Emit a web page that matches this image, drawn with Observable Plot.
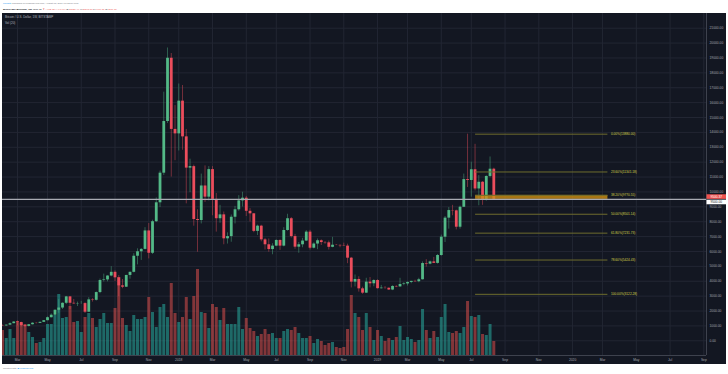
<!DOCTYPE html>
<html>
<head>
<meta charset="utf-8">
<script src="https://cdn.jsdelivr.net/npm/d3@7"></script>
<script src="https://cdn.jsdelivr.net/npm/@observablehq/plot@0.6"></script>
<style>
  html,body{margin:0;padding:0;background:#ffffff;}
  body{width:728px;height:374px;position:relative;overflow:hidden;font-family:"Liberation Sans","DejaVu Sans",Arial,sans-serif;}
  #panel{position:absolute;left:2px;top:13px;width:724px;height:351px;background:#131722;}
  .layer{position:absolute;left:0;top:13px;}
  .layer svg{display:block;overflow:visible;}
  #overlay{position:absolute;left:0;top:0;}
</style>
</head>
<body>
<div id="panel"></div>
<div class="layer" id="gridLayer"></div>
<div class="layer" id="volLayer"></div>
<div class="layer" id="priceLayer"></div>
<svg id="overlay" width="728" height="374" font-family="Liberation Sans, DejaVu Sans, Arial, sans-serif"></svg>
<script>
// ---- week start dates (BITSTAMP:BTCUSD, 1W) ----
const weeks = [
"2017-02-06","2017-02-13","2017-02-20","2017-02-27","2017-03-06","2017-03-13","2017-03-20","2017-03-27","2017-04-03","2017-04-10",
"2017-04-17","2017-04-24","2017-05-01","2017-05-08","2017-05-15","2017-05-22","2017-05-29","2017-06-05","2017-06-12","2017-06-19",
"2017-06-26","2017-07-03","2017-07-10","2017-07-17","2017-07-24","2017-07-31","2017-08-07","2017-08-14","2017-08-21","2017-08-28",
"2017-09-04","2017-09-11","2017-09-18","2017-09-25","2017-10-02","2017-10-09","2017-10-16","2017-10-23","2017-10-30","2017-11-06",
"2017-11-13","2017-11-20","2017-11-27","2017-12-04","2017-12-11","2017-12-18","2017-12-25","2018-01-01","2018-01-08","2018-01-15",
"2018-01-22","2018-01-29","2018-02-05","2018-02-12","2018-02-19","2018-02-26","2018-03-05","2018-03-12","2018-03-19","2018-03-26",
"2018-04-02","2018-04-09","2018-04-16","2018-04-23","2018-04-30","2018-05-07","2018-05-14","2018-05-21","2018-05-28","2018-06-04",
"2018-06-11","2018-06-18","2018-06-25","2018-07-02","2018-07-09","2018-07-16","2018-07-23","2018-07-30","2018-08-06","2018-08-13",
"2018-08-20","2018-08-27","2018-09-03","2018-09-10","2018-09-17","2018-09-24","2018-10-01","2018-10-08","2018-10-15","2018-10-22",
"2018-10-29","2018-11-05","2018-11-12","2018-11-19","2018-11-26","2018-12-03","2018-12-10","2018-12-17","2018-12-24","2018-12-31",
"2019-01-07","2019-01-14","2019-01-21","2019-01-28","2019-02-04","2019-02-11","2019-02-18","2019-02-25","2019-03-04","2019-03-11",
"2019-03-18","2019-03-25","2019-04-01","2019-04-08","2019-04-15","2019-04-22","2019-04-29","2019-05-06","2019-05-13","2019-05-20",
"2019-05-27","2019-06-03","2019-06-10","2019-06-17","2019-06-24","2019-07-01","2019-07-08","2019-07-15","2019-07-22","2019-07-29",
"2019-08-05","2019-08-12"];

const opens = [
1010,1000,1050,1150,1260,1230,1020,965,1080,1180,
1170,1240,1350,1550,1720,2050,2200,2520,2950,2520,
2480,2500,2500,1920,2750,2720,3240,4050,4090,4350,
4600,4230,3690,3600,4390,4600,5680,5980,6140,7380,
5880,8000,9270,11260,14730,18980,14200,13900,16100,13700,
11600,11700,8150,8080,10400,9650,11500,9500,8200,8460,
6850,7000,8300,8800,9400,9580,8700,8530,7350,7700,
6780,6450,6130,6360,6740,6360,7410,8200,7000,6290,
6450,6700,7300,6220,6500,6720,6600,6580,6280,6420,
6410,6380,6360,5550,3940,4120,3490,3200,3940,3830,
4050,3500,3540,3530,3410,3650,3620,3780,3820,3920,
3990,3970,4100,5190,5150,5300,5200,5730,6960,8240,
8750,8730,7630,8970,10830,10770,11490,10200,10650,9500,
11040,11527.44];

const highs = [
1060,1060,1200,1280,1330,1250,1065,1100,1210,1210,
1250,1360,1600,1810,2080,2760,2550,2980,2980,2780,
2600,2650,2560,2900,2830,3280,4150,4480,4370,4980,
4700,4380,4120,4400,4620,5850,6180,6200,7600,7880,
8100,9600,11400,16700,19670,19300,15800,17250,17150,14200,
12200,11800,8800,11200,11750,11700,11700,9900,9100,8650,
7250,8450,9030,9750,9980,9700,8880,8550,7770,7760,
6880,6840,6520,6780,6780,7600,8500,8280,7150,6600,
6880,7400,7420,6580,6840,6780,6670,6700,6950,6470,
6440,6560,6490,5600,4420,4300,3600,4200,4250,4100,
4100,3720,3640,3550,3700,3700,4200,3900,3950,4000,
4070,4200,5300,5450,5360,5600,5800,7100,8350,8950,
9100,8780,9050,11200,13880,12000,13200,11100,10700,11080,
12350,11593.37];

const lows = [
975,975,1045,1140,1000,940,890,930,1060,1130,
1160,1230,1345,1530,1700,1850,2100,2440,2100,2450,
2300,2450,1830,1910,2600,2670,3160,3950,3960,4300,
3980,2970,3500,3580,4140,4560,5100,5400,6100,5500,
5800,7950,8950,11100,14600,11000,12100,12750,12800,9200,
9950,7700,5950,7850,9300,9400,8400,7300,7900,6450,
6500,6620,7850,8700,8990,8350,7980,7260,7070,6650,
6100,5950,5780,6330,6070,6310,7360,6900,6150,5880,
6250,6670,6100,6170,6120,6400,6480,6100,6250,6390,
6250,6340,5180,3550,3620,3270,3122.28,3180,3550,3630,
3480,3470,3460,3380,3370,3570,3600,3700,3680,3830,
3920,3900,4080,4950,5100,5200,5150,5680,6600,7500,
8400,7450,7500,8970,10300,9650,10070,9070,9100,9380,
10950,9467.37];

const closes = [
1000,1050,1150,1260,1230,1020,965,1080,1180,1170,
1240,1350,1550,1720,2050,2200,2520,2950,2520,2480,
2500,2500,1920,2750,2720,3240,4050,4090,4350,4600,
4230,3690,3600,4390,4600,5680,5980,6140,7380,5880,
8000,9270,11260,14730,18980,14200,13900,16100,13700,11600,
11700,8150,8080,10400,9650,11500,9500,8200,8460,6850,
7000,8300,8800,9400,9580,8700,8530,7350,7700,6780,
6450,6130,6360,6740,6360,7410,8200,7000,6290,6450,
6700,7300,6220,6500,6720,6600,6580,6280,6420,6410,
6380,6360,5550,3940,4120,3490,3200,3940,3830,4050,
3500,3540,3530,3410,3650,3620,3780,3820,3920,3990,
3970,4100,5190,5150,5300,5200,5730,6960,8240,8750,
8730,7630,8970,10830,10770,11490,10200,10650,9500,11040,
11527.44,9500.37];

// weekly volume, thousand BTC
const volumes = [
75,51,78,51,102,96,93,69,54,36,
39,51,93,93,120,183,111,114,147,99,
102,69,114,126,111,84,108,126,96,96,
141,234,111,90,72,120,108,108,114,174,
129,84,144,153,114,216,126,99,114,174,
108,177,258,129,126,81,153,144,105,141,
93,93,93,144,78,111,81,72,57,63,
78,63,66,51,51,72,78,75,84,66,
51,51,57,36,48,42,30,36,39,24,
21,24,78,180,126,114,75,126,84,45,
75,57,42,51,45,54,87,45,54,48,
39,45,138,75,51,72,54,114,153,69,
66,72,66,84,162,117,114,120,63,60,
93,42];

// price axis labels and time axis labels
const priceTicks = [0,1000,2000,3000,4000,5000,6000,7000,8000,9000,10000,11000,12000,13000,14000,15000,16000,17000,18000,19000,20000,21000];
const tickDates = ["2017-03-06","2017-05-01","2017-07-03","2017-09-04","2017-11-06","2018-01-01","2018-03-05","2018-05-07","2018-07-02","2018-09-03","2018-11-05",
  "2019-01-07","2019-03-04","2019-05-06","2019-07-01","2019-09-02","2019-11-04","2020-01-06","2020-03-02","2020-05-04","2020-07-06","2020-09-07"];
const tickLabels = ["Mar","May","Jul","Sep","Nov","2018","Mar","May","Jul","Sep","Nov","2019","Mar","May","Jul","Sep","Nov","2020","Mar","May","Jul","Sep"];

// Fibonacci retracement (13880.00 -> 3122.28)
const fibRatios = [0, 0.236, 0.382, 0.5, 0.618, 0.786, 1];
const fibPrices = [13880.00, 11341.18, 9770.55, 8501.14, 7231.73, 5424.43, 3122.28];
const fibStart = "2019-07-09", fibEnd = "2020-03-12";
const boxLow = 9500.00, boxHigh = 9770.55;
const lineLevel = 9500.00;
const lastPrice = 9500.37;

// visible range
const xStart = "2017-02-06", xEnd = "2020-09-12";
const yMin = -988, yMax = 21987, volMax = 1026;

const parse = d3.utcParse("%Y-%m-%d");
const data = weeks.map((w, i) => ({date: parse(w), open: opens[i], high: highs[i], low: lows[i], close: closes[i], volume: volumes[i]}));
const up = data.filter(d => d.close >= d.open);
const down = data.filter(d => d.close < d.open);
const fib = fibRatios.map((r, i) => ({ratio: r, price: fibPrices[i], x1: parse(fibStart), x2: parse(fibEnd)}));
const box = [{x1: parse(fibStart), x2: parse(fibEnd), y1: boxLow, y2: boxHigh}];
const tDates = tickDates.map(parse);
const labelOf = new Map(tDates.map((d, i) => [+d, tickLabels[i]]));

const frame = {width: 728, height: 351, marginLeft: 2, marginRight: 22, marginTop: 0, marginBottom: 9,
  style: {background: "transparent", overflow: "visible", fontFamily: "Liberation Sans, DejaVu Sans, Arial, sans-serif"}};
const xOpt = {type: "utc", domain: [parse(xStart), parse(xEnd)]};

const gridPlot = Plot.plot({
  ...frame,
  x: {...xOpt, axis: null},
  y: {domain: [yMin, yMax], axis: null},
  marks: [
    Plot.gridY(priceTicks, {stroke: "#222633", strokeOpacity: 1}),
    Plot.gridX(tDates, {stroke: "#222633", strokeOpacity: 1}),
    Plot.axisY(priceTicks, {anchor: "right", tickSize: 0, tickPadding: 3, fontSize: 3.3, fill: "#a3a6af", tickFormat: d => d.toFixed(2)}),
    Plot.axisX(tDates, {anchor: "bottom", tickSize: 0, tickPadding: 3, fontSize: 3.3, fill: "#a3a6af", tickFormat: d => labelOf.get(+d)}),
    Plot.ruleX([parse(xEnd)], {stroke: "#4a4e59", strokeWidth: 0.8}),
    Plot.ruleY([yMin], {stroke: "#4a4e59", strokeWidth: 0.8})
  ]
});
document.getElementById("gridLayer").append(gridPlot);

const volPlot = Plot.plot({
  ...frame,
  x: {...xOpt, axis: null},
  y: {domain: [0, volMax], axis: null},
  marks: [
    Plot.ruleX(up, {x: "date", y1: 0, y2: "volume", stroke: "#26a69a", strokeOpacity: 0.58, strokeWidth: 3, clip: true}),
    Plot.ruleX(down, {x: "date", y1: 0, y2: "volume", stroke: "#ef5350", strokeOpacity: 0.5, strokeWidth: 3, clip: true})
  ]
});
document.getElementById("volLayer").append(volPlot);

const pricePlot = Plot.plot({
  ...frame,
  x: {...xOpt, axis: null},
  y: {domain: [yMin, yMax], axis: null},
  marks: [
    Plot.ruleX(up, {x: "date", y1: "low", y2: "high", stroke: "#53b987", strokeOpacity: 0.45, strokeWidth: 1, clip: true}),
    Plot.ruleX(down, {x: "date", y1: "low", y2: "high", stroke: "#eb4d5c", strokeOpacity: 0.45, strokeWidth: 1, clip: true}),
    Plot.ruleX(up, {x: "date", y1: "open", y2: "close", stroke: "#53b987", strokeWidth: 2.8, clip: true}),
    Plot.ruleX(down, {x: "date", y1: "open", y2: "close", stroke: "#eb4d5c", strokeWidth: 2.8, clip: true}),
    Plot.rect(box, {x1: "x1", x2: "x2", y1: "y1", y2: "y2", fill: "#cf8f12", fillOpacity: 0.8}),
    Plot.ruleY(fib, {y: "price", x1: "x1", x2: "x2", stroke: "#6e6c2d", strokeWidth: 1}),
    Plot.ruleY([lineLevel], {stroke: "#a9abb3", strokeWidth: 1.4}),
    Plot.text(fib, {x: "x2", y: "price", dx: 3, textAnchor: "start", fontSize: 3.2, fill: "#d6d24a",
      text: d => `${(d.ratio * 100).toFixed(2)}%(${d.price.toFixed(2)})`})
  ]
});
document.getElementById("priceLayer").append(pricePlot);

// overlay texts: header, chart title, price tags, footer
const ys = pricePlot.scale("y");
const ov = d3.select("#overlay");
const topOff = 13;
const l1 = ov.append("text").attr("x", 3).attr("y", 4.4).attr("font-size", 2.4).attr("fill", "#787b86");
l1.append("tspan").attr("fill", "#2196f3").text("cocobtc");
l1.append("tspan").text(" published on TradingView.com, August 15, 2019 07:03:00 UTC");
const l2 = ov.append("text").attr("x", 3).attr("y", 9.6).attr("font-size", 2.5).attr("fill", "#131722");
l2.append("tspan").attr("font-weight", "bold").text("BITSTAMP:BTCUSD, 1W ");
l2.append("tspan").text(lastPrice.toFixed(2) + " ");
l2.append("tspan").attr("fill", "#ef5350").text("▼ −462.62 (−4.64%) ");
l2.append("tspan").text("O:");
l2.append("tspan").attr("fill", "#ef5350").text(opens[opens.length - 1].toFixed(2) + " ");
l2.append("tspan").text("H:");
l2.append("tspan").attr("fill", "#ef5350").text(highs[highs.length - 1].toFixed(2) + " ");
l2.append("tspan").text("L:");
l2.append("tspan").attr("fill", "#ef5350").text(lows[lows.length - 1].toFixed(2) + " ");
l2.append("tspan").text("C:");
l2.append("tspan").attr("fill", "#ef5350").text(closes[closes.length - 1].toFixed(2));

ov.append("text").attr("x", 5).attr("y", 17.8).attr("font-size", 3).attr("fill", "#b2b5be").text("Bitcoin / U.S. Dollar, 1W, BITSTAMP");
ov.append("text").attr("x", 5).attr("y", 24.2).attr("font-size", 3).attr("fill", "#b2b5be").text("Vol (20)");

// price tags on the right scale
const yLast = topOff + ys.apply(lastPrice);
const yLine = topOff + ys.apply(lineLevel);
ov.append("rect").attr("x", 706.5).attr("y", yLast - 4.6).attr("width", 19.5).attr("height", 4.6).attr("fill", "#ef5350");
ov.append("text").attr("x", 716.2).attr("y", yLast - 1.1).attr("font-size", 3.2).attr("text-anchor", "middle").attr("fill", "#ffffff").text(lastPrice.toFixed(2));
ov.append("rect").attr("x", 706.5).attr("y", yLine + 0.8).attr("width", 19.5).attr("height", 4.6).attr("fill", "#ffffff");
ov.append("text").attr("x", 716.2).attr("y", yLine + 4.3).attr("font-size", 3.2).attr("text-anchor", "middle").attr("fill", "#131722").text(lineLevel.toFixed(2));

// footer
const f = ov.append("text").attr("x", 3).attr("y", 369.2).attr("font-size", 2.4).attr("fill", "#787b86");
f.append("tspan").text("Created with ");
f.append("tspan").attr("fill", "#2196f3").text("☁ TradingView");
</script>
</body>
</html>
